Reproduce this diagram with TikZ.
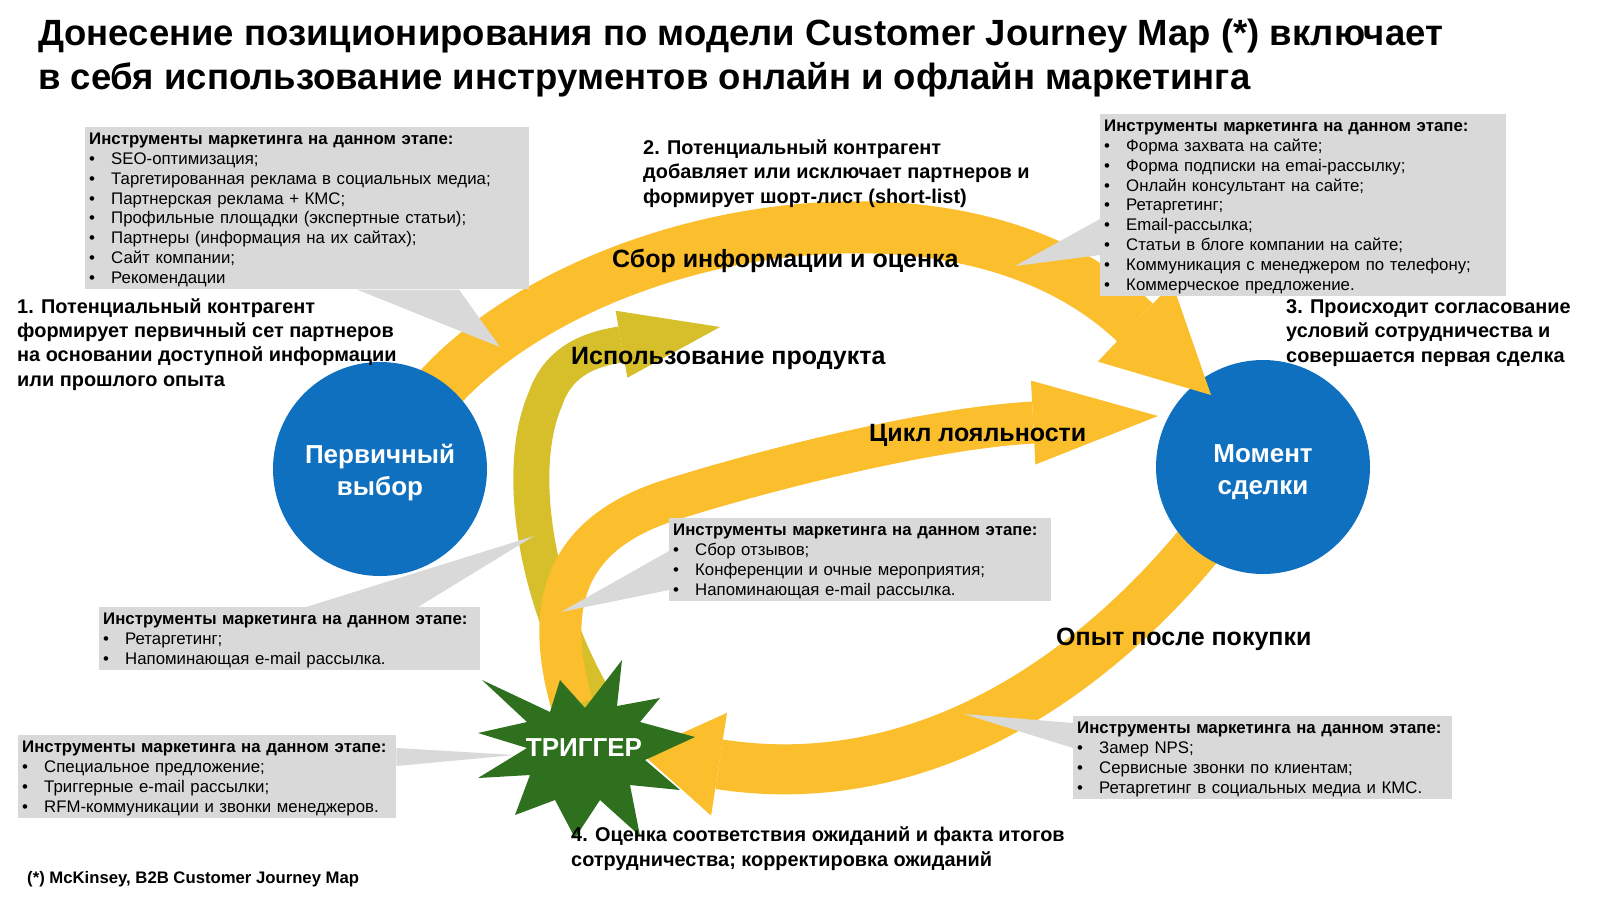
\documentclass[tikz,border=0pt]{standalone}
\usepackage{fontspec}
\setmainfont{Liberation Sans}
\usetikzlibrary{arrows.meta}
\definecolor{cjorange}{RGB}{251,190,45}
\definecolor{cjolive}{RGB}{214,191,42}
\definecolor{cjblue}{RGB}{16,112,192}
\definecolor{cjgreen}{RGB}{47,112,31}
\definecolor{cjgrey}{RGB}{217,217,217}
\newcommand\cjst{\rule[-4.3pt]{0pt}{19.9pt}}
\newcommand\hd[1]{\cjst\textbf{#1}}
\newcommand\bl{\cjst\makebox[22pt][l]{\textbullet}}
\begin{document}
\begin{tikzpicture}[x=1pt,y=-1pt,
  circ/.style={circle, fill=cjblue, minimum size=214pt, inner sep=0pt},
  ctext/.style={text=white, font=\fontsize{26}{32}\selectfont\bfseries, align=center, inner sep=0pt},
  tbox/.style={fill=cjgrey, anchor=north west, inner xsep=4pt, inner ysep=1.5pt,
    font=\fontsize{16.8}{19.9}\selectfont, align=left},
  wedge/.style={fill=cjgrey},
  lbl/.style={font=\fontsize{25}{30}\selectfont\bfseries, inner sep=0pt, anchor=base west},
  steptext/.style={font=\fontsize{19.9}{24.2}\selectfont\bfseries, align=left, inner sep=0pt, anchor=base west},
  ttl/.style={font=\fontsize{36.5}{44}\selectfont\bfseries, align=left, inner sep=0pt, anchor=base west}
]
\useasboundingbox[fill=white] (0,0) rectangle (1600,897);

% centres
\coordinate (c1) at (380,469);
\coordinate (c2) at (1263,467);
\coordinate (trc) at (584,750);

% arrow end points
\coordinate (botS) at (1224,513);
\coordinate (botT) at (640,752);
\coordinate (topS) at (414,420);
\coordinate (topT) at (1211,395);
\coordinate (olS) at (598,705);
\coordinate (olT) at (720,327);
\coordinate (loyS) at (572,705);
\coordinate (loyT) at (1158,416);

% bottom arrow: Опыт после покупки
\draw[cjorange, line width=50pt, line cap=butt,
  -{Triangle[length=80pt,width=104pt,line width=0pt]}]
  (botS) .. controls (1130,640) and (950,800) .. (botT);

% circle 2
\node[circ] (p2) at (c2) {};
\node[ctext] (t2) at ([yshift=-5pt]p2.center) {Момент\\сделки};

% top arrow: Сбор информации и оценка
\draw[cjorange, line width=52pt, line cap=butt,
  -{Triangle[length=105pt,width=108pt,line width=0pt]}]
  (topS) .. controls (540,236) and (950,146) .. (topT);

% circle 1
\node[circ] (p1) at (c1) {};
\node[ctext] (t1) at ([yshift=-4pt]p1.center) {Первичный\\выбор};

% olive arrow: Использование продукта
\draw[cjolive, line width=36pt, line cap=butt,
  -{Triangle[length=100pt,width=68pt,line width=0pt]}]
  (olS) .. controls (535,600) and (515,470) .. (545,400)
  .. controls (560,355) and (600,348) .. (olT);

% loyalty arrow
\draw[cjorange, line width=42pt, line cap=butt,
  -{Triangle[length=125pt,width=84pt,line width=0pt]}]
  (loyS) .. controls (545,610) and (560,535) .. (670,500)
  .. controls (765,470) and (930,428) .. (loyT);

% trigger star
\fill[cjgreen, shift={(trc)}]
  (38,-90) -- (33,-44) -- (76,-52) -- (56,-28) -- (111,-13) -- (61,10)
  -- (96,40) -- (46,35) -- (56,86) -- (16,50) -- (-9,88) -- (-29,50)
  -- (-69,65) -- (-54,25) -- (-106,28) -- (-57,-2) -- (-106,-17)
  -- (-57,-28) -- (-102,-70) -- (-34,-38) -- (-24,-70) -- (1,-42) -- cycle;
\node[text=white, font=\fontsize{26}{30}\selectfont\bfseries, inner sep=0pt] (trig) at ([yshift=2pt]trc) {ТРИГГЕР};

% arrow labels
\node[lbl] (lA) at (612,267) {Сбор информации и оценка};
\node[lbl] (lB) at (571,364) {Использование продукта};
\node[lbl] (lC) at (869,441) {Цикл лояльности};
\node[lbl] (lD) at (1056,645) {Опыт после покупки};

% callout boxes
\node[tbox, text width=436pt, minimum height=162pt] (bA) at (85,127) {\hd{Инструменты маркетинга на данном этапе:}\\
\bl SEO-оптимизация;\\
\bl Таргетированная реклама в социальных медиа;\\
\bl Партнерская реклама + КМС;\\
\bl Профильные площадки (экспертные статьи);\\
\bl Партнеры (информация на их сайтах);\\
\bl Сайт компании;\\
\bl Рекомендации};
\coordinate (tipA) at (500,347);
\fill[wedge] ([xshift=272pt]bA.south west) -- (tipA) -- ([xshift=374pt]bA.south west) -- cycle;

\node[tbox, text width=398pt, minimum height=182pt] (bB) at (1100,114) {\hd{Инструменты маркетинга на данном этапе:}\\
\bl Форма захвата на сайте;\\
\bl Форма подписки на emai-рассылку;\\
\bl Онлайн консультант на сайте;\\
\bl Ретаргетинг;\\
\bl Email-рассылка;\\
\bl Статьи в блоге компании на сайте;\\
\bl Коммуникация с менеджером по телефону;\\
\bl Коммерческое предложение.};
\coordinate (tipB) at (1015,266);
\fill[wedge] ([yshift=-105pt]bB.north west) -- (tipB) -- ([yshift=-141pt]bB.north west) -- cycle;

\node[tbox, text width=374pt, minimum height=80pt] (bC) at (669,518) {\hd{Инструменты маркетинга на данном этапе:}\\
\bl Сбор отзывов;\\
\bl Конференции и очные мероприятия;\\
\bl Напоминающая e-mail рассылка.};
\coordinate (tipC) at (561,612);
\fill[wedge] ([yshift=-33pt]bC.north west) -- (tipC) -- ([yshift=-72pt]bC.north west) -- cycle;

\node[tbox, text width=373pt, minimum height=61pt] (bD) at (99,607) {\hd{Инструменты маркетинга на данном этапе:}\\
\bl Ретаргетинг;\\
\bl Напоминающая e-mail рассылка.};
\coordinate (tipD) at (534,536);
\fill[wedge] ([xshift=207pt]bD.north west) -- (tipD) -- ([xshift=319pt]bD.north west) -- cycle;

\node[tbox, text width=370pt, minimum height=79pt] (bE) at (18,735) {\hd{Инструменты маркетинга на данном этапе:}\\
\bl Специальное предложение;\\
\bl Триггерные e-mail рассылки;\\
\bl RFM-коммуникации и звонки менеджеров.};
\coordinate (tipE) at (515,755);
\fill[wedge] ([yshift=-13pt]bE.north east) -- (tipE) -- ([yshift=-31pt]bE.north east) -- cycle;

\node[tbox, text width=371pt, minimum height=80pt] (bF) at (1073,716) {\hd{Инструменты маркетинга на данном этапе:}\\
\bl Замер NPS;\\
\bl Сервисные звонки по клиентам;\\
\bl Ретаргетинг в социальных медиа и КМС.};
\coordinate (tipF) at (964,714);
\fill[wedge] ([yshift=-7pt]bF.north west) -- (tipF) -- ([yshift=-32pt]bF.north west) -- cycle;

% step texts (anchor = baseline of last line)
\node[steptext] (s1) at (17,386) {1. Потенциальный контрагент\\формирует первичный сет партнеров\\на основании доступной информации\\или прошлого опыта};
\node[steptext] (s2) at (643,203) {2. Потенциальный контрагент\\добавляет или исключает партнеров и\\формирует шорт-лист (short-list)};
\node[steptext] (s3) at (1286,362) {3. Происходит согласование\\условий сотрудничества и\\совершается первая сделка};
\node[steptext] (s4) at (571,866) {4. Оценка соответствия ожиданий и факта итогов\\сотрудничества; корректировка ожиданий};
\node[font=\fontsize{16.7}{20}\selectfont\bfseries, inner sep=0pt, anchor=base west] (fn) at (27,883) {(*) McKinsey, B2B Customer Journey Map};

% title
\node[ttl] (title) at (38,89) {Донесение позиционирования по модели Customer Journey Map (*) включает\\в себя использование инструментов онлайн и офлайн маркетинга};
\end{tikzpicture}
\end{document}
